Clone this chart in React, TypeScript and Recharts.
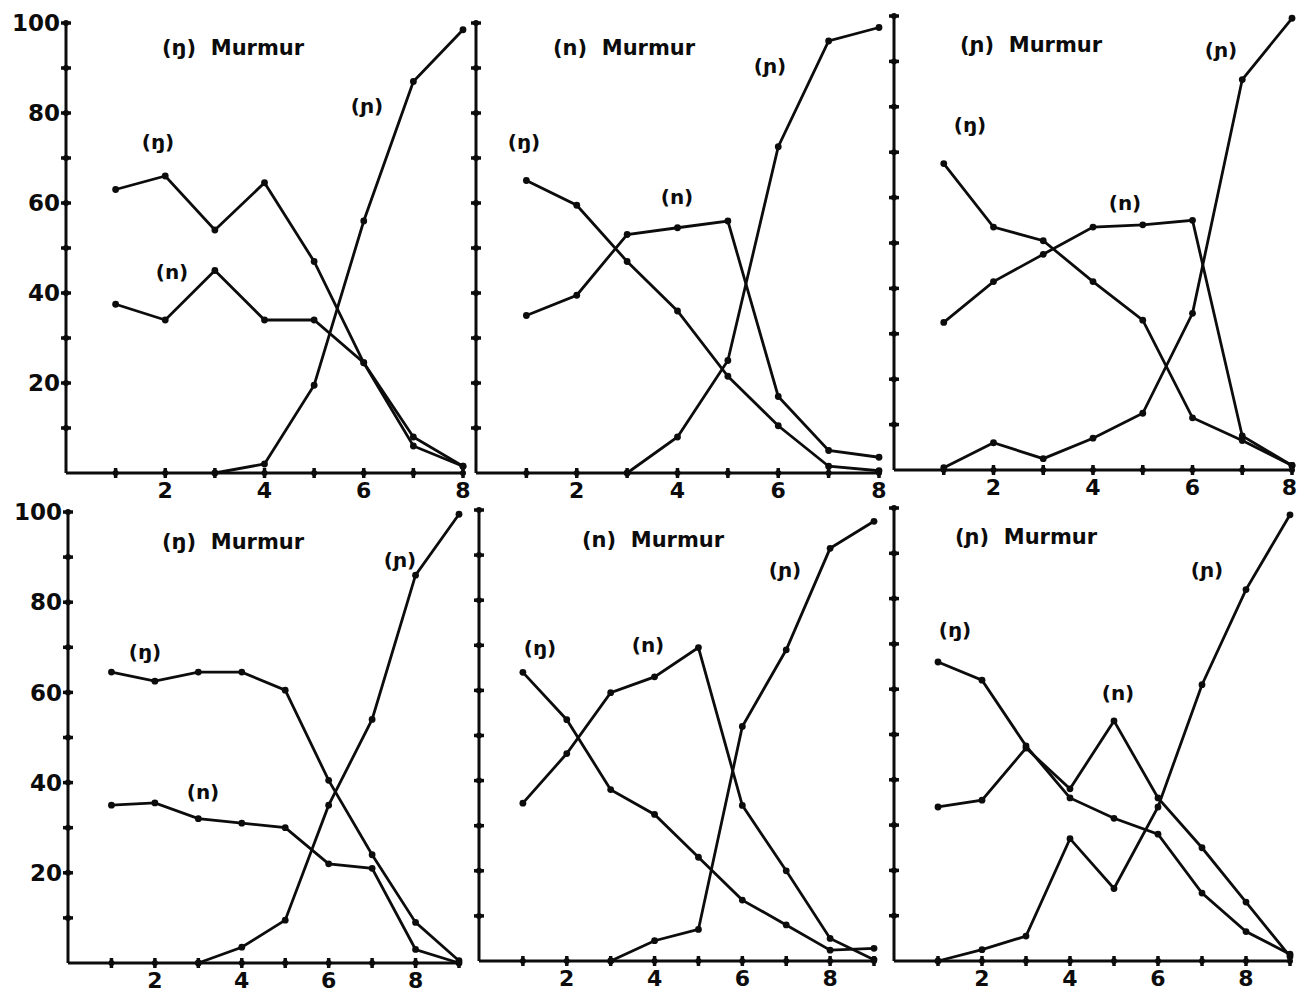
import React from "react";
import { LineChart, Line, XAxis, YAxis } from "recharts";

// x positions (trial number), 8 or 9 steps per panel
const steps8 = [1, 2, 3, 4, 5, 6, 7, 8];
const steps9 = [1, 2, 3, 4, 5, 6, 7, 8, 9];
const yTicks = [10, 20, 30, 40, 50, 60, 70, 80, 90, 100];

// percentage of responses for each nasal
const p1Eng = [63, 66, 54, 64.5, 47, 24.5, 6, 1.5];
const p1N = [37.5, 34, 45, 34, 34, 24.5, 8, 1.5];
const p1Pal = [null, null, 0, 2, 19.5, 56, 87, 98.5];

const p2Eng = [65, 59.5, 47, 36, 21.5, 10.5, 1.5, 0.5];
const p2N = [35, 39.5, 53, 54.5, 56, 17, 5, 3.5];
const p2Pal = [null, null, 0, 8, 25, 72.5, 96, 99];

const p3Eng = [67.5, 53.5, 50.5, 41.5, 33, 11.5, 6.5, 1];
const p3N = [32.5, 41.5, 47.5, 53.5, 54, 55, 7.5, 1];
const p3Pal = [0.5, 6, 2.5, 7, 12.5, 34.5, 86, 99.5];

const p4Eng = [64.5, 62.5, 64.5, 64.5, 60.5, 40.5, 24, 9, 0.5];
const p4N = [35, 35.5, 32, 31, 30, 22, 21, 3, 0];
const p4Pal = [null, null, 0, 3.5, 9.5, 35, 54, 86, 99.5];

const p5Eng = [64, 53.5, 38, 32.5, 23, 13.5, 8, 2.4, 2.8];
const p5N = [35, 46, 59.5, 63, 69.5, 34.5, 20, 5, 0.3];
const p5Pal = [null, null, 0, 4.5, 7, 52, 69, 91.5, 97.5];

const p6Eng = [66, 62, 47.5, 36, 31.5, 28, 15, 6.5, 1.5];
const p6N = [34, 35.5, 47, 38, 53, 36, 25, 13, 1];
const p6Pal = [0, 2.5, 5.5, 27, 16, 34, 61, 82, 98.5];

const INK = "#0c0c0c";
const FONT = "'DejaVu Sans', Verdana, sans-serif";
const PAGE_W = 1298;

const PAD_L = 70;
const PAD_T = 15;
const PAD_R = 15;
const PAD_B = 35;

type Lbl = { text: string; x: number; y: number };

type Panel = {
  steps: number[];
  eng: (number | null)[];
  n: (number | null)[];
  pal: (number | null)[];
  left: number;
  top: number;
  width: number;
  height: number;
  yLabels: boolean;
  title: Lbl;
  labels: Lbl[];
};

const panels: Panel[] = [
  {
    steps: steps8, eng: p1Eng, n: p1N, pal: p1Pal,
    left: 66, top: 23, width: 397, height: 450, yLabels: true,
    title: { text: "(ŋ)  Murmur", x: 162, y: 48 },
    labels: [
      { text: "(ŋ)", x: 158, y: 142 },
      { text: "(n)", x: 172, y: 272 },
      { text: "(ɲ)", x: 367, y: 106 },
    ],
  },
  {
    steps: steps8, eng: p2Eng, n: p2N, pal: p2Pal,
    left: 476, top: 23, width: 403, height: 450, yLabels: false,
    title: { text: "(n)  Murmur", x: 553, y: 48 },
    labels: [
      { text: "(ŋ)", x: 524, y: 142 },
      { text: "(n)", x: 677, y: 197 },
      { text: "(ɲ)", x: 770, y: 66 },
    ],
  },
  {
    steps: steps8, eng: p3Eng, n: p3N, pal: p3Pal,
    left: 894, top: 16, width: 398, height: 454, yLabels: false,
    title: { text: "(ɲ)  Murmur", x: 960, y: 45 },
    labels: [
      { text: "(ŋ)", x: 970, y: 125 },
      { text: "(n)", x: 1125, y: 203 },
      { text: "(ɲ)", x: 1221, y: 50 },
    ],
  },
  {
    steps: steps9, eng: p4Eng, n: p4N, pal: p4Pal,
    left: 68, top: 512, width: 391, height: 451, yLabels: true,
    title: { text: "(ŋ)  Murmur", x: 162, y: 542 },
    labels: [
      { text: "(ŋ)", x: 145, y: 652 },
      { text: "(n)", x: 203, y: 792 },
      { text: "(ɲ)", x: 400, y: 560 },
    ],
  },
  {
    steps: steps9, eng: p5Eng, n: p5N, pal: p5Pal,
    left: 479, top: 510, width: 395, height: 451, yLabels: false,
    title: { text: "(n)  Murmur", x: 582, y: 540 },
    labels: [
      { text: "(ŋ)", x: 540, y: 648 },
      { text: "(n)", x: 648, y: 645 },
      { text: "(ɲ)", x: 785, y: 570 },
    ],
  },
  {
    steps: steps9, eng: p6Eng, n: p6N, pal: p6Pal,
    left: 894, top: 508, width: 396, height: 453, yLabels: false,
    title: { text: "(ɲ)  Murmur", x: 955, y: 537 },
    labels: [
      { text: "(ŋ)", x: 955, y: 630 },
      { text: "(n)", x: 1118, y: 693 },
      { text: "(ɲ)", x: 1207, y: 570 },
    ],
  },
];

function YTick(props: any) {
  const { x, y, payload, showLabel } = props;
  const v = payload.value;
  return (
    <g>
      <line x1={x - 5} x2={x + 5} y1={y} y2={y} stroke={INK} strokeWidth={3.5} />
      <circle cx={x} cy={y} r={3} fill={INK} />
      {showLabel && v % 20 === 0 && (
        <text x={x - 6} y={y} dy="0.36em" textAnchor="end" fill={INK}
          style={{ fontFamily: FONT, fontWeight: 700, fontSize: 23 }}>
          {v}
        </text>
      )}
    </g>
  );
}

function XTick(props: any) {
  const { x, y, payload, maxX } = props;
  const v = payload.value;
  // keep the last label inside the page edge
  const over = x + 8 > maxX;
  return (
    <g>
      <line x1={x} x2={x} y1={y - 5} y2={y + 5} stroke={INK} strokeWidth={3.5} />
      <circle cx={x} cy={y} r={3} fill={INK} />
      {v % 2 === 0 && (
        <text x={over ? maxX : x} y={y + 17} dy="0.36em" textAnchor={over ? "end" : "middle"} fill={INK}
          style={{ fontFamily: FONT, fontWeight: 700, fontSize: 22 }}>
          {v}
        </text>
      )}
    </g>
  );
}

function PanelChart({ p }: { p: Panel }) {
  const data = p.steps.map((s, i) => ({ x: s, eng: p.eng[i], n: p.n[i], pal: p.pal[i] }));
  const xMax = p.steps[p.steps.length - 1];
  const dot = { r: 3.4, fill: INK, stroke: INK, strokeWidth: 0 };
  const originX = p.left - PAD_L;
  return (
    <div style={{ position: "absolute", left: originX, top: p.top - PAD_T }}>
      <LineChart
        width={p.width + PAD_L + PAD_R}
        height={p.height + PAD_T + PAD_B}
        data={data}
        margin={{ top: PAD_T, right: PAD_R, bottom: 0, left: 0 }}
      >
        <XAxis
          dataKey="x" type="number" domain={[0, xMax]} ticks={p.steps}
          height={PAD_B} tickSize={0} tickMargin={0}
          axisLine={{ stroke: INK, strokeWidth: 3 }} tickLine={false}
          tick={<XTick maxX={PAGE_W - originX - 1} />} interval={0}
        />
        <YAxis
          type="number" domain={[0, 100]} ticks={yTicks}
          width={PAD_L} tickSize={0} tickMargin={0}
          axisLine={{ stroke: INK, strokeWidth: 3 }} tickLine={false}
          tick={<YTick showLabel={p.yLabels} />} interval={0}
        />
        <Line type="linear" dataKey="eng" stroke={INK} strokeWidth={2.8} dot={dot} isAnimationActive={false} />
        <Line type="linear" dataKey="n" stroke={INK} strokeWidth={2.8} dot={dot} isAnimationActive={false} />
        <Line type="linear" dataKey="pal" stroke={INK} strokeWidth={2.8} dot={dot} isAnimationActive={false} />
      </LineChart>
    </div>
  );
}

const textStyle: React.CSSProperties = {
  position: "absolute",
  fontFamily: FONT,
  fontWeight: 700,
  color: INK,
  whiteSpace: "pre",
  lineHeight: 1,
};

export default function App() {
  return (
    <div style={{ position: "absolute", left: 0, top: 0, width: PAGE_W, height: 994, background: "#fff", overflow: "hidden" }}>
      {panels.map((p, i) => (
        <PanelChart key={i} p={p} />
      ))}
      {panels.map((p, i) => (
        <React.Fragment key={"t" + i}>
          <span style={{ ...textStyle, fontSize: 21, left: p.title.x, top: p.title.y, transform: "translateY(-50%)" }}>
            {p.title.text}
          </span>
          {p.labels.map((l, j) => (
            <span key={j} style={{ ...textStyle, fontSize: 20, left: l.x, top: l.y, transform: "translate(-50%, -50%)" }}>
              {l.text}
            </span>
          ))}
        </React.Fragment>
      ))}
    </div>
  );
}
